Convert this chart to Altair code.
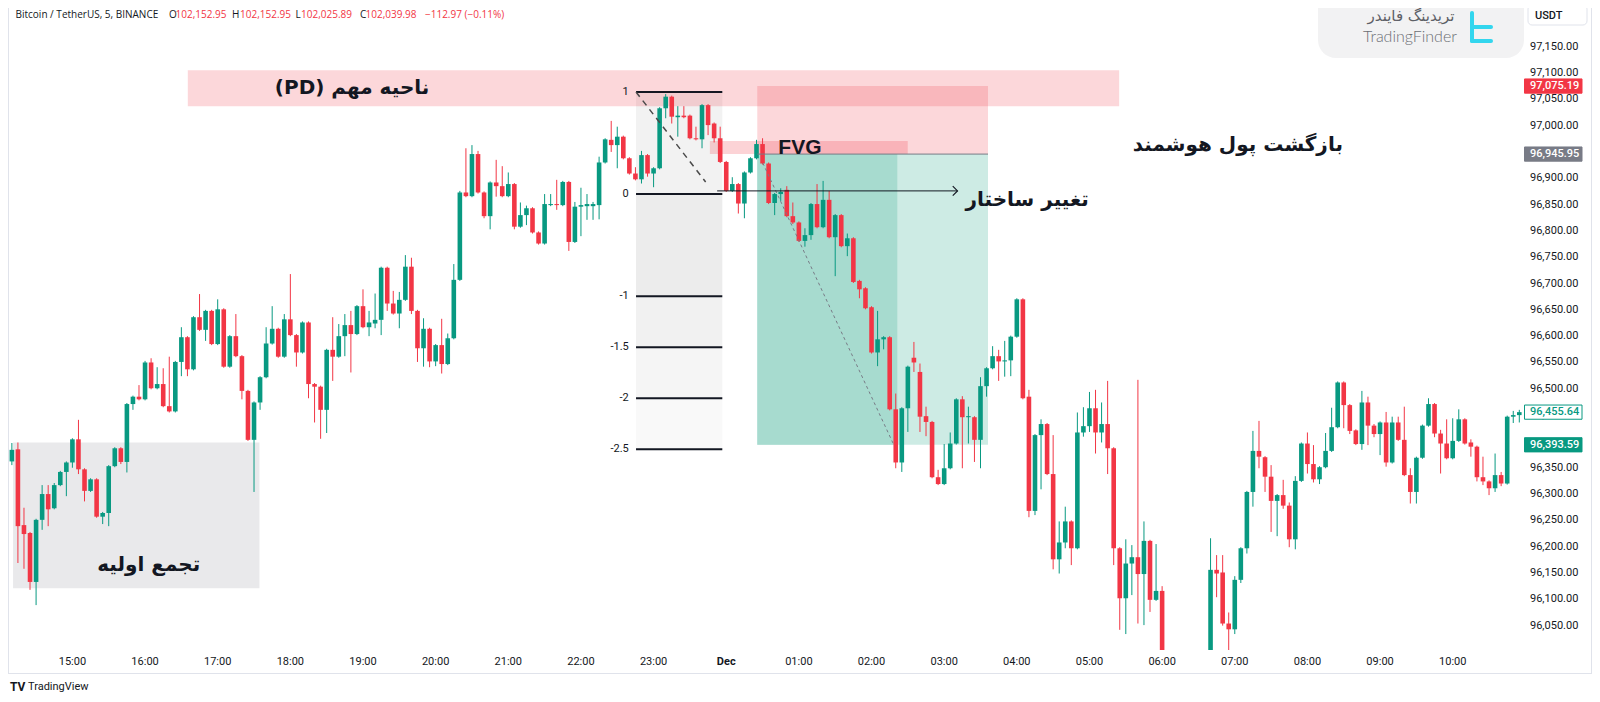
import altair as alt
import pandas as pd

# ---------------- data ----------------
# candle index 0 = 15:00, one step = 5 minutes; first candle is 14:10
FIRST_INDEX = -10
opens = [
    96362, 96385, 96241, 96226, 96133, 96251, 96300, 96273, 96317, 96342,
    96360, 96404, 96347, 96306, 96328, 96257, 96264, 96353, 96387, 96361,
    96471, 96485, 96480, 96550, 96501, 96509, 96467, 96457, 96551, 96598,
    96537, 96636, 96612, 96648, 96585, 96651, 96542, 96600, 96562, 96496,
    96403, 96474, 96522, 96586, 96614, 96561, 96632, 96602, 96569, 96626,
    96509, 96504, 96460, 96574, 96561, 96600, 96621, 96604, 96657, 96617,
    96624, 96631, 96730, 96662, 96643, 96669, 96732, 96648, 96577, 96614,
    96552, 96583, 96547, 96596, 96707, 96873, 96866, 96946, 96873, 96828,
    96892, 96885, 96866, 96889, 96808, 96830, 96843, 96797, 96776, 96849,
    96851, 96849, 96893, 96779, 96846, 96847, 96847, 96849, 96930, 96973,
    96963, 96979, 96938, 96909, 96898, 96944, 96909, 96919, 97033, 97055,
    97016, 97019, 97019, 96976, 96974, 97039, 97004, 96976, 96931, 96876,
    96889, 96852, 96911, 96938, 96965, 96928, 96853, 96870, 96878, 96828,
    96816, 96781, 96792, 96851, 96807, 96859, 96788, 96830, 96771, 96786,
    96705, 96691, 96655, 96569, 96594, 96598, 96461, 96360, 96463, 96559,
    96532, 96448, 96437, 96332, 96319, 96349, 96396, 96480, 96446, 96446,
    96403, 96505, 96539, 96562, 96552, 96554, 96599, 96670, 96485, 96268,
    96412, 96433, 96338, 96176, 96208, 96248, 96197, 96417, 96429, 96463,
    96417, 96433, 96387, 96197, 96102, 96168, 96180, 96148, 96211, 96099,
    96116, 95980, 95930, 95960, 95925, 95890, 95940, 95975, 95950, 96156,
    96151, 96054, 96043, 96137, 96197, 96304, 96382, 96370, 96333, 96287,
    96298, 96278, 96214, 96325, 96396, 96357, 96328, 96351, 96382, 96427,
    96512, 96469, 96421, 96395, 96474, 96430, 96414, 96436, 96360, 96436,
    96403, 96336, 96304, 96369, 96430, 96471, 96415, 96396, 96368, 96401,
    96442, 96398, 96390, 96332, 96324, 96311, 96336, 96320, 96447, 96450,
]
highs = [
    96397, 96398, 96274, 96228, 96253, 96317, 96317, 96321, 96344, 96362,
    96406, 96441, 96349, 96330, 96330, 96266, 96355, 96389, 96389, 96473,
    96487, 96507, 96553, 96558, 96541, 96539, 96561, 96553, 96617, 96600,
    96638, 96680, 96650, 96650, 96670, 96653, 96602, 96642, 96564, 96498,
    96476, 96524, 96617, 96657, 96616, 96642, 96718, 96604, 96628, 96628,
    96511, 96506, 96576, 96636, 96623, 96642, 96648, 96659, 96689, 96648,
    96681, 96732, 96732, 96686, 96684, 96754, 96749, 96650, 96634, 96616,
    96585, 96633, 96605, 96737, 96876, 96957, 96963, 96952, 96875, 96894,
    96935, 96923, 96911, 96891, 96854, 96848, 96845, 96799, 96870, 96870,
    96897, 96895, 96895, 96855, 96882, 96870, 96855, 96941, 96976, 97009,
    96998, 96981, 96940, 96921, 96952, 96946, 96921, 97035, 97060, 97057,
    97037, 97037, 97021, 96998, 97041, 97041, 97006, 96998, 96933, 96902,
    96891, 96913, 96940, 96973, 96976, 96930, 96872, 96881, 96885, 96854,
    96818, 96805, 96853, 96889, 96895, 96876, 96832, 96832, 96795, 96788,
    96707, 96693, 96657, 96648, 96600, 96600, 96491, 96465, 96544, 96589,
    96548, 96466, 96439, 96346, 96395, 96417, 96482, 96486, 96466, 96448,
    96522, 96541, 96581, 96574, 96591, 96601, 96672, 96672, 96498, 96414,
    96442, 96435, 96412, 96248, 96276, 96250, 96455, 96465, 96494, 96498,
    96474, 96515, 96389, 96199, 96214, 96203, 96517, 96248, 96213, 96205,
    96125, 95995, 95985, 95990, 95970, 95955, 95990, 95998, 96216, 96184,
    96184, 96075, 96144, 96199, 96306, 96420, 96439, 96372, 96355, 96300,
    96327, 96284, 96334, 96398, 96417, 96393, 96353, 96416, 96464, 96514,
    96514, 96471, 96423, 96496, 96485, 96433, 96438, 96456, 96447, 96447,
    96466, 96349, 96371, 96432, 96482, 96473, 96422, 96442, 96444, 96461,
    96444, 96404, 96392, 96371, 96326, 96377, 96342, 96449, 96458, 96460,
]
lows = [
    96355, 96169, 96158, 96118, 96089, 96232, 96239, 96271, 96315, 96296,
    96350, 96338, 96286, 96304, 96255, 96243, 96239, 96351, 96357, 96341,
    96460, 96478, 96478, 96499, 96499, 96465, 96455, 96455, 96524, 96524,
    96535, 96610, 96591, 96583, 96583, 96540, 96540, 96560, 96480, 96401,
    96304, 96460, 96520, 96584, 96559, 96559, 96600, 96542, 96567, 96482,
    96436, 96405, 96416, 96515, 96559, 96562, 96531, 96602, 96615, 96600,
    96615, 96602, 96648, 96641, 96615, 96667, 96642, 96551, 96542, 96541,
    96543, 96529, 96545, 96594, 96705, 96864, 96864, 96871, 96824, 96803,
    96865, 96864, 96864, 96803, 96806, 96811, 96795, 96774, 96774, 96847,
    96840, 96847, 96762, 96777, 96790, 96821, 96821, 96822, 96928, 96950,
    96919, 96936, 96907, 96896, 96890, 96903, 96883, 96917, 97014, 97004,
    96979, 97014, 96974, 96972, 96957, 96982, 96968, 96929, 96874, 96874,
    96833, 96824, 96909, 96936, 96926, 96851, 96830, 96857, 96826, 96813,
    96779, 96770, 96783, 96805, 96805, 96786, 96714, 96769, 96752, 96701,
    96672, 96651, 96567, 96543, 96575, 96459, 96349, 96342, 96418, 96532,
    96418, 96410, 96330, 96317, 96317, 96347, 96394, 96349, 96396, 96361,
    96349, 96485, 96537, 96515, 96523, 96524, 96597, 96480, 96256, 96260,
    96309, 96336, 96157, 96149, 96197, 96165, 96195, 96409, 96418, 96377,
    96398, 96338, 96165, 96042, 96034, 96108, 96054, 96051, 96076, 96097,
    95940, 95900, 95880, 95910, 95860, 95850, 95900, 95930, 95930, 96104,
    96050, 95980, 96034, 96131, 96187, 96276, 96349, 96304, 96228, 96220,
    96272, 96199, 96195, 96323, 96339, 96322, 96319, 96349, 96380, 96425,
    96425, 96414, 96393, 96384, 96393, 96408, 96374, 96352, 96358, 96401,
    96334, 96282, 96282, 96367, 96428, 96408, 96339, 96366, 96366, 96399,
    96394, 96371, 96324, 96317, 96298, 96304, 96315, 96318, 96435, 96436,
]
closes = [
    96384, 96239, 96224, 96133, 96251, 96300, 96271, 96317, 96342, 96360,
    96404, 96347, 96306, 96328, 96257, 96264, 96353, 96387, 96361, 96471,
    96485, 96480, 96550, 96501, 96509, 96467, 96457, 96551, 96598, 96537,
    96636, 96612, 96648, 96585, 96651, 96542, 96600, 96562, 96496, 96403,
    96474, 96522, 96586, 96614, 96561, 96632, 96602, 96569, 96626, 96509,
    96504, 96460, 96574, 96561, 96600, 96621, 96604, 96657, 96617, 96626,
    96631, 96730, 96662, 96643, 96669, 96732, 96648, 96577, 96614, 96552,
    96583, 96547, 96596, 96707, 96873, 96866, 96946, 96873, 96828, 96892,
    96885, 96866, 96889, 96808, 96830, 96843, 96797, 96776, 96851, 96851,
    96849, 96893, 96779, 96846, 96849, 96851, 96851, 96930, 96974, 96963,
    96979, 96938, 96909, 96898, 96944, 96909, 96919, 97033, 97055, 97017,
    97019, 97016, 96976, 96974, 97039, 97001, 96976, 96931, 96876, 96889,
    96852, 96911, 96938, 96965, 96928, 96853, 96870, 96874, 96828, 96816,
    96781, 96792, 96851, 96807, 96859, 96788, 96830, 96771, 96786, 96703,
    96689, 96653, 96569, 96594, 96598, 96461, 96360, 96463, 96542, 96550,
    96447, 96437, 96332, 96319, 96349, 96396, 96480, 96446, 96448, 96403,
    96505, 96539, 96562, 96552, 96554, 96599, 96670, 96482, 96268, 96412,
    96433, 96338, 96176, 96208, 96248, 96197, 96417, 96429, 96463, 96417,
    96433, 96387, 96197, 96102, 96168, 96180, 96148, 96211, 96099, 96116,
    95980, 95930, 95960, 95925, 95890, 95940, 95975, 95950, 96156, 96149,
    96054, 96043, 96137, 96197, 96304, 96382, 96371, 96333, 96287, 96298,
    96278, 96214, 96325, 96396, 96357, 96328, 96351, 96382, 96427, 96512,
    96469, 96420, 96395, 96474, 96430, 96414, 96436, 96360, 96436, 96403,
    96336, 96304, 96369, 96430, 96471, 96415, 96396, 96368, 96401, 96442,
    96396, 96390, 96332, 96324, 96311, 96336, 96320, 96447, 96450, 96455.64,
]

time_tick_pos = [0, 12, 24, 36, 48, 60, 72, 84, 96, 108, 120, 132, 144, 156,
                 168, 180, 192, 204, 216, 228]
time_tick_labels = ["15:00", "16:00", "17:00", "18:00", "19:00", "20:00", "21:00",
                    "22:00", "23:00", "Dec", "01:00", "02:00", "03:00", "04:00",
                    "05:00", "06:00", "07:00", "08:00", "09:00", "10:00"]
# 96,400 and 96,950 sit under the coloured price tags, so they are not listed
price_ticks = [96050, 96100, 96150, 96200, 96250, 96300, 96350, 96450,
               96500, 96550, 96600, 96650, 96700, 96750, 96800, 96850, 96900,
               97000, 97050, 97100, 97150]

fib_levels = ["1", "0", "-1", "-1.5", "-2", "-2.5"]
fib_prices = [97064, 96870, 96676, 96579, 96482, 96385]
fib_span = [93.1, 107.35]

stop_price = 97075.19
entry_price = 96945.95
target_price = 96393.59
last_price = 96455.64
position_span = [113.13, 151.24]
position_filled_end = 136.26

pd_zone = dict(i1=19.06, i2=172.9, p1=97105, p2=97037)
fvg_zone = dict(i1=105.3, i2=137.98, p1=96971, p2=96946)
accum_zone = dict(i1=-9.8, i2=30.9, p1=96398, p2=96121)

GREEN = "#089981"
RED = "#f23645"
INK = "#131722"

# ---------------- scales ----------------
XS = alt.Scale(domain=[-10.638, 239.775], nice=False, zero=False, padding=0)
YS = alt.Scale(domain=[96003.7, 97223.5], nice=False, zero=False, padding=0)


def X(f):
    return alt.X(f, type="quantitative", scale=XS, axis=None)


def Y(f):
    return alt.Y(f, type="quantitative", scale=YS, axis=None)


n = len(opens)
cdf = pd.DataFrame({
    "i": list(range(FIRST_INDEX, FIRST_INDEX + n)),
    "o": opens, "h": highs, "l": lows, "c": closes,
})
ccolor = alt.condition("datum.c >= datum.o", alt.value(GREEN), alt.value(RED))

wicks = alt.Chart(cdf).mark_rule(strokeWidth=1, clip=True).encode(
    x=X("i"), y=Y("l"), y2=alt.Y2("h"), color=ccolor)
bodies = alt.Chart(cdf).mark_bar(size=4.6, clip=True).encode(
    x=X("i"), y=Y("o"), y2=alt.Y2("c"), color=ccolor)

# ---------------- zones ----------------
zones = pd.DataFrame([
    dict(accum_zone, fill="#e9e9eb", op=1.0),
    dict(i1=fib_span[0], i2=fib_span[1], p1=fib_prices[0], p2=fib_prices[1], fill="#f2f2f2", op=1.0),
    dict(i1=fib_span[0], i2=fib_span[1], p1=fib_prices[1], p2=fib_prices[2], fill="#ececec", op=1.0),
    dict(i1=fib_span[0], i2=fib_span[1], p1=fib_prices[2], p2=fib_prices[3], fill="#f1f1f1", op=1.0),
    dict(i1=fib_span[0], i2=fib_span[1], p1=fib_prices[3], p2=fib_prices[4], fill="#f5f5f5", op=1.0),
    dict(i1=fib_span[0], i2=fib_span[1], p1=fib_prices[4], p2=fib_prices[5], fill="#f9f9f9", op=1.0),
    dict(i1=position_span[0], i2=position_span[1], p1=entry_price, p2=target_price, fill="#cdebe4", op=1.0),
    dict(i1=position_span[0], i2=position_filled_end, p1=entry_price, p2=target_price, fill="#a7dbcf", op=1.0),
    dict(pd_zone, fill=RED, op=0.2),
    dict(i1=position_span[0], i2=position_span[1], p1=stop_price, p2=entry_price, fill=RED, op=0.2),
    dict(fvg_zone, fill=RED, op=0.22),
])
zone_layer = alt.Chart(zones).mark_rect().encode(
    x=X("i1"), x2=alt.X2("i2"), y=Y("p1"), y2=alt.Y2("p2"),
    color=alt.Color("fill:N", scale=None), opacity=alt.Opacity("op:Q", scale=None))

# ---------------- lines ----------------
fib_df = pd.DataFrame({"lvl": fib_levels, "p": fib_prices,
                       "i1": fib_span[0], "i2": fib_span[1]})
fib_lines = alt.Chart(fib_df).mark_rule(strokeWidth=2, color=INK).encode(
    x=X("i1"), x2=alt.X2("i2"), y=Y("p"))
fib_labels = alt.Chart(fib_df.assign(ix=91.9)).mark_text(
    align="right", baseline="middle", fontSize=11, color=INK, font="Roboto").encode(
    x=X("ix"), y=Y("p"), text="lvl:N")

entry_line = alt.Chart(pd.DataFrame({"i1": [position_span[0]], "i2": [position_span[1]],
                                     "p": [entry_price]})).mark_rule(
    strokeWidth=1, color="#787b86").encode(x=X("i1"), x2=alt.X2("i2"), y=Y("p"))

fib_diag = alt.Chart(pd.DataFrame({"i1": [93.1], "i2": [104.6], "p1": [97064], "p2": [96893]})).mark_rule(
    strokeWidth=1.5, color="#4a4a4a", strokeDash=[6, 5]).encode(
    x=X("i1"), x2=alt.X2("i2"), y=Y("p1"), y2=alt.Y2("p2"))
pos_diag = alt.Chart(pd.DataFrame({"i1": [114.04], "i2": [135.7], "p1": [96929], "p2": [96393]})).mark_rule(
    strokeWidth=1, color="#787b86", strokeDash=[3, 3]).encode(
    x=X("i1"), x2=alt.X2("i2"), y=Y("p1"), y2=alt.Y2("p2"))

arrow_df = pd.DataFrame({"i1": [106.5], "i2": [146.2], "p": [96876]})
arrow_line = alt.Chart(arrow_df).mark_rule(strokeWidth=1, color=INK).encode(
    x=X("i1"), x2=alt.X2("i2"), y=Y("p"))
arrow_head = alt.Chart(arrow_df).mark_point(
    shape="M-1,-1L0,0L-1,1", filled=False, size=90, strokeWidth=1.2, color=INK, opacity=1).encode(
    x=X("i2"), y=Y("p"))

# ---------------- annotation texts ----------------
PERSIAN_FONT = "DejaVu Sans"
notes = pd.DataFrame([
    dict(t="\u202bناحیه مهم (PD)\u202c", i=46.2, p=97071.5),
    dict(t="تجمع اولیه", i=12.6, p=96165),
    dict(t="تغییر ساختار", i=157.7, p=96859),
    dict(t="بازگشت پول هوشمند", i=192.5, p=96963),
])
note_layer = alt.Chart(notes).mark_text(
    align="center", baseline="middle", fontSize=20, fontWeight="bold", color=INK,
    font=PERSIAN_FONT).encode(x=X("i"), y=Y("p"), text="t:N")
fvg_text = alt.Chart(pd.DataFrame({"t": ["FVG"], "i": [116.6], "p": [96958]})).mark_text(
    align="left", baseline="middle", fontSize=21, fontWeight="bold", color=INK,
    font="Liberation Sans").encode(x=X("i"), y=Y("p"), text="t:N")

# ---------------- price axis ----------------
PLOT_W, PLOT_H = 1516, 642
price_lab = alt.Chart(pd.DataFrame({"p": price_ticks})).mark_text(
    align="left", baseline="middle", fontSize=11, color=INK, font="Roboto").encode(
    x=alt.value(PLOT_W + 6), y=Y("p"), text=alt.Text("p:Q", format=",.2f"))

boxes = pd.DataFrame({
    "p": [stop_price, entry_price, last_price, target_price],
    "fill": [RED, "#787b86", "#ffffff", GREEN],
    "stroke": [RED, "#787b86", GREEN, GREEN],
    "tc": ["#ffffff", "#ffffff", GREEN, "#ffffff"],
})
box_rect = alt.Chart(boxes).transform_calculate(
    top="datum.p + 13.5", bot="datum.p - 13.5").mark_rect(strokeWidth=1).encode(
    x=alt.value(PLOT_W + 0.5), x2=alt.value(PLOT_W + 58),
    y=Y("top:Q"), y2=alt.Y2("bot:Q"),
    fill=alt.Fill("fill:N", scale=None), stroke=alt.Stroke("stroke:N", scale=None))
box_text = alt.Chart(boxes).mark_text(
    align="left", baseline="middle", fontSize=11, font="Roboto", fontWeight=500).encode(
    x=alt.value(PLOT_W + 6), y=Y("p"), text=alt.Text("p:Q", format=",.2f"),
    color=alt.Color("tc:N", scale=None))

# ---------------- time axis ----------------
tdf = pd.DataFrame({"pos": time_tick_pos, "lab": time_tick_labels})
time_lab = alt.Chart(tdf).transform_filter("datum.lab != 'Dec'").mark_text(
    align="center", baseline="middle", fontSize=11, color=INK, font="Roboto").encode(
    x=X("pos"), y=alt.value(PLOT_H + 12), text="lab:N")
time_dec = alt.Chart(tdf).transform_filter("datum.lab == 'Dec'").mark_text(
    align="center", baseline="middle", fontSize=11, color=INK, font="Roboto",
    fontWeight="bold").encode(
    x=X("pos"), y=alt.value(PLOT_H + 12), text="lab:N")

# ---------------- frame / header / logos ----------------
one = pd.DataFrame({"k": [0]})
frame = alt.layer(
    alt.Chart(one).mark_rule(color="#e0e3eb", strokeWidth=1).encode(
        x=alt.value(0.5), y=alt.value(0), y2=alt.value(665)),
    alt.Chart(one).mark_rule(color="#e0e3eb", strokeWidth=1).encode(
        x=alt.value(1583.5), y=alt.value(0), y2=alt.value(665)),
    alt.Chart(one).mark_rule(color="#e0e3eb", strokeWidth=1).encode(
        x=alt.value(0), x2=alt.value(1584), y=alt.value(665.5)),
)

header_parts = pd.DataFrame([
    dict(t="Bitcoin / TetherUS, 5, BINANCE", x=7.5, c=INK),
    dict(t="O", x=161, c=INK), dict(t="102,152.95", x=167.5, c=RED),
    dict(t="H", x=224, c=INK), dict(t="102,152.95", x=232, c=RED),
    dict(t="L", x=287.5, c=INK), dict(t="102,025.89", x=293, c=RED),
    dict(t="C", x=352, c=INK), dict(t="102,039.98", x=357.5, c=RED),
    dict(t="\u2212112.97 (\u22120.11%)", x=417, c=RED),
])
header = alt.Chart(header_parts).mark_text(
    align="left", baseline="middle", fontSize=10, font="Open Sans").encode(
    x=alt.X("x:Q", scale=None, axis=None), y=alt.value(7), text="t:N",
    color=alt.Color("c:N", scale=None))

tf_bg = alt.Chart(one).mark_rect(color="#f2f2f3", cornerRadius=18).encode(
    x=alt.value(1310), x2=alt.value(1516), y=alt.value(-20), y2=alt.value(50))
tf_fa = alt.Chart(pd.DataFrame({"t": ["تریدینگ فایندر"]})).mark_text(
    align="center", baseline="middle", fontSize=15, color="#5d6066", font=PERSIAN_FONT).encode(
    x=alt.value(1403), y=alt.value(8), text="t:N")
tf_en = alt.Chart(pd.DataFrame({"t": ["TradingFinder"]})).mark_text(
    align="center", baseline="middle", fontSize=16, color="#6b6e74", font="Lato",
    fontWeight=300).encode(x=alt.value(1402), y=alt.value(29), text="t:N")
icon_col = "#33d6ee"
tf_icon = alt.layer(
    alt.Chart(one).mark_rule(color=icon_col, strokeWidth=4, strokeCap="round").encode(
        x=alt.value(1464), y=alt.value(5), y2=alt.value(33)),
    alt.Chart(one).mark_rule(color=icon_col, strokeWidth=4, strokeCap="round").encode(
        x=alt.value(1464), x2=alt.value(1483), y=alt.value(19)),
    alt.Chart(one).mark_rule(color=icon_col, strokeWidth=4, strokeCap="round").encode(
        x=alt.value(1464), x2=alt.value(1483), y=alt.value(33)),
)
usdt_box = alt.Chart(one).mark_rect(fill="#ffffff", stroke="#e0e3eb", strokeWidth=1,
                                    cornerRadius=4).encode(
    x=alt.value(1520), x2=alt.value(1579), y=alt.value(-3), y2=alt.value(17))
usdt_txt = alt.Chart(pd.DataFrame({"t": ["USDT"]})).mark_text(
    align="left", baseline="middle", fontSize=11, color=INK, font="Roboto",
    fontWeight=500).encode(x=alt.value(1527), y=alt.value(8), text="t:N")

tv_logo = alt.Chart(pd.DataFrame({"t": ["TV"]})).mark_text(
    align="left", baseline="middle", fontSize=12, fontWeight="bold", color=INK,
    font="Roboto").encode(x=alt.value(2), y=alt.value(679), text="t:N")
tv_txt = alt.Chart(pd.DataFrame({"t": ["TradingView"]})).mark_text(
    align="left", baseline="middle", fontSize=11, color=INK, font="Roboto").encode(
    x=alt.value(20), y=alt.value(679), text="t:N")

chart = alt.layer(
    frame, zone_layer, fib_lines, fib_labels,
    wicks, bodies,
    entry_line, fib_diag, pos_diag, arrow_line, arrow_head,
    note_layer, fvg_text,
    price_lab, box_rect, box_text, time_lab, time_dec,
    header, tf_bg, tf_fa, tf_en, tf_icon, usdt_box, usdt_txt, tv_logo, tv_txt,
).properties(
    width=PLOT_W, height=PLOT_H,
    autosize=alt.AutoSizeParams(type="none"),
    padding={"left": 0, "top": 0, "right": 68, "bottom": 44},
    background="#ffffff",
).configure_view(stroke=None)

chart.save("out.html", embed_options={"renderer": "svg", "actions": False})
